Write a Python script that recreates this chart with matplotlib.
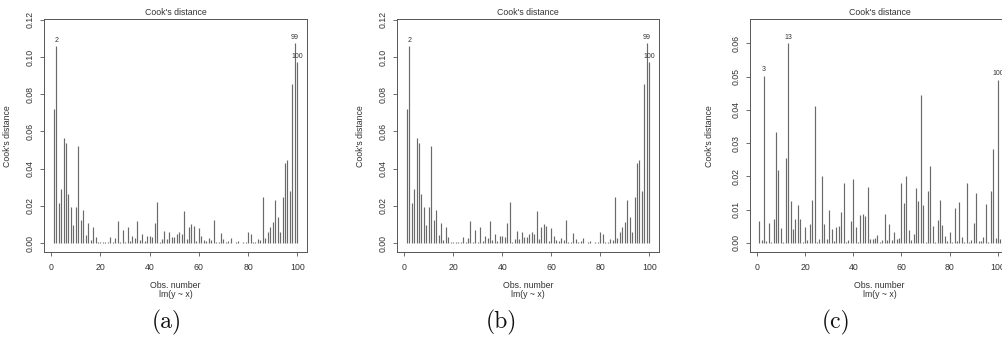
import numpy as np
import matplotlib
matplotlib.use("Agg")
import matplotlib.pyplot as plt
from matplotlib import font_manager

# ---------------- data ----------------
obs_ab = list(range(1, 101))
cook_ab = [0.0719, 0.1060, 0.0217, 0.0290, 0.0565, 0.0538, 0.0264, 0.0192, 0.0095, 0.0194,
           0.0520, 0.0126, 0.0178, 0.0041, 0.0106, 0.0014, 0.0086, 0.0032, 0.0003, 0.0003,
           0.0005, 0.0008, 0.0003, 0.0033, 0.0006, 0.0027, 0.0120, 0.0003, 0.0070, 0.0005,
           0.0088, 0.0012, 0.0040, 0.0028, 0.0118, 0.0014, 0.0047, 0.0013, 0.0037, 0.0036,
           0.0034, 0.0106, 0.0220, 0.0006, 0.0023, 0.0066, 0.0022, 0.0057, 0.0031, 0.0030,
           0.0051, 0.0057, 0.0049, 0.0172, 0.0019, 0.0088, 0.0101, 0.0089, 0.0010, 0.0080,
           0.0035, 0.0016, 0.0011, 0.0028, 0.0018, 0.0125, 0.0003, 0.0003, 0.0054, 0.0021,
           0.0005, 0.0012, 0.0027, 0.0002, 0.0003, 0.0012, 0.0002, 0.0003, 0.0008, 0.0060,
           0.0049, 0.0006, 0.0004, 0.0019, 0.0014, 0.0248, 0.0028, 0.0058, 0.0085, 0.0114,
           0.0229, 0.0141, 0.0058, 0.0248, 0.0429, 0.0444, 0.0281, 0.0858, 0.1077, 0.0974]
labels_ab = [2, 99, 100]

obs_c = list(range(1, 102))
cook_c = [0.0066, 0.0010, 0.0503, 0.0005, 0.0060, 0.0003, 0.0072, 0.0333, 0.0218, 0.0044,
          0.0002, 0.0255, 0.0600, 0.0127, 0.0042, 0.0071, 0.0115, 0.0071, 0.0003, 0.0049,
          0.0008, 0.0056, 0.0130, 0.0413, 0.0002, 0.0012, 0.0201, 0.0057, 0.0011, 0.0098,
          0.0043, 0.0005, 0.0048, 0.0050, 0.0093, 0.0180, 0.0003, 0.0009, 0.0066, 0.0192,
          0.0047, 0.0002, 0.0085, 0.0086, 0.0082, 0.0168, 0.0012, 0.0012, 0.0014, 0.0025,
          0.0002, 0.0009, 0.0088, 0.0008, 0.0058, 0.0008, 0.0034, 0.0013, 0.0015, 0.0181,
          0.0120, 0.0201, 0.0038, 0.0008, 0.0027, 0.0166, 0.0126, 0.0446, 0.0115, 0.0002,
          0.0156, 0.0231, 0.0051, 0.0002, 0.0069, 0.0128, 0.0054, 0.0021, 0.0006, 0.0032,
          0.0002, 0.0105, 0.0005, 0.0124, 0.0018, 0.0002, 0.0179, 0.0002, 0.0009, 0.0060,
          0.0149, 0.0005, 0.0005, 0.0017, 0.0117, 0.0002, 0.0156, 0.0283, 0.0015, 0.0491,
          0.0012]
labels_c = [3, 13, 100]

xticks = [0, 20, 40, 60, 80, 100]
yticks_ab = [0.00, 0.02, 0.04, 0.06, 0.08, 0.10, 0.12]
yticks_c = [0.00, 0.01, 0.02, 0.03, 0.04, 0.05, 0.06]
captions = ["(a)", "(b)", "(c)"]

# ---------------- style ----------------
avail = {f.name for f in font_manager.fontManager.ttflist}
sans = ["Liberation Sans Narrow"] if "Liberation Sans Narrow" in avail else []
sans += ["Liberation Sans", "DejaVu Sans"]
plt.rcParams["font.family"] = sans

W, H = 1002, 341
fig = plt.figure(figsize=(W / 100, H / 100), dpi=100)
fig.patch.set_facecolor("white")

FS = 6.3
TXT = "#333333"
LINE = "#555555"


def px_axes(left, right, top, bottom):
    return fig.add_axes([left / W, 1 - bottom / H, (right - left) / W, (bottom - top) / H])


def panel(ax, xs, ys, xlim, ylim, yticks, ylab_x, lab_ids):
    ax.vlines(xs, 0, ys, colors="#6a6a6a", linewidth=0.85)
    ax.set_xlim(*xlim)
    ax.set_ylim(*ylim)
    ax.set_xticks(xticks)
    ax.set_xticklabels([str(t) for t in xticks], fontsize=FS, color=TXT)
    ax.set_yticks(yticks)
    ax.set_yticklabels([f"{t:.2f}" for t in yticks], fontsize=FS, color=TXT,
                       rotation=90, va="center")
    ax.tick_params(direction="out", length=3.0, width=0.6, color=LINE)
    ax.tick_params(axis="x", pad=4.5)
    ax.tick_params(axis="y", pad=3.5)
    for s in ax.spines.values():
        s.set_color(LINE)
        s.set_linewidth(0.7)
    ax.text(0.5, 1.027, "Cook's distance", transform=ax.transAxes, ha="center",
            va="center", fontsize=FS, color=TXT)
    ax.text(0.5, -0.143, "Obs. number", transform=ax.transAxes, ha="center",
            va="center", fontsize=FS, color=TXT)
    ax.text(0.5, -0.183, "lm(y ~ x)", transform=ax.transAxes, ha="center",
            va="center", fontsize=FS, color=TXT)
    ax.set_ylabel("Cook's distance", fontsize=FS, color=TXT)
    ax.yaxis.set_label_coords(ylab_x, 0.5)
    for i in lab_ids:
        ax.annotate(str(i), (xs[i - 1], ys[i - 1]), xytext=(0, 1.5),
                    textcoords="offset points", ha="center", va="bottom",
                    fontsize=5.0, color=TXT, annotation_clip=False)


ax_a = px_axes(44, 307, 19, 252.3)
panel(ax_a, obs_ab, cook_ab, (-2.96, 103.96), (-0.0050, 0.1205), yticks_ab, -0.123, labels_ab)

ax_b = px_axes(397, 659, 19, 252.3)
panel(ax_b, obs_ab, cook_ab, (-2.96, 103.96), (-0.0050, 0.1205), yticks_ab, -0.123, labels_ab)

ax_c = px_axes(749.5, 1010, 19, 252.3)
panel(ax_c, obs_c, cook_c, (-3.0, 105.0), (-0.0028, 0.0673), yticks_c, -0.137, labels_c)

for cx, cap in zip([167, 501, 836], captions):
    fig.text(cx / W, 1 - 322 / H, cap, ha="center", va="center", fontsize=17,
             family="cmr10", color="#111111")

fig.savefig("out.png", dpi=100)
